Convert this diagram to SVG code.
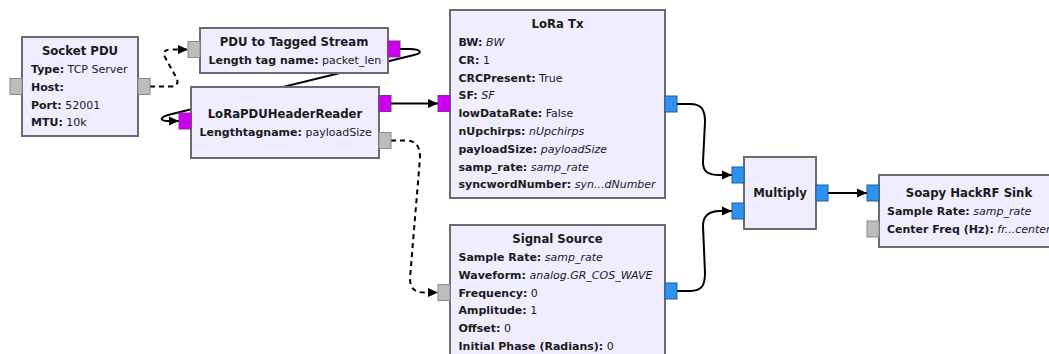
<svg xmlns="http://www.w3.org/2000/svg" width="1049" height="354" viewBox="0 0 1049 354">
<style>
.blk{fill:#F0EDFF;stroke:#6b6b6b;stroke-width:2}
.t{font-family:"DejaVu Sans",sans-serif;font-size:11.7px;font-weight:bold;fill:#1a1a1a;text-anchor:middle}
.p{font-family:"DejaVu Sans",sans-serif;font-size:11px;fill:#1a1a1a}
.b{font-weight:bold}
.i{font-style:italic}
.pg{fill:#BDBDBD;stroke:#8a8a8a;stroke-width:1}
.pm{fill:#CC00EE;stroke:#8a2a9a;stroke-width:1}
.pb{fill:#2F93EE;stroke:#1c5fa8;stroke-width:1}
.c{fill:none;stroke:#000;stroke-width:2}
.d{fill:none;stroke:#000;stroke-width:2;stroke-dasharray:5 4}
</style>
<defs>
<marker id="ah" markerUnits="userSpaceOnUse" markerWidth="11" markerHeight="10" refX="10" refY="5" orient="auto">
<path d="M0,0.5 L10,5 L0,9.5 z" fill="#000"/>
</marker>
</defs>
<g id="connectors">
<path class="d" d="M150,86.5 L170,86.5 C178,86.5 179,82 176,77 L166,59 C162,52 164,49.5 172,49.5 L188,49.5" marker-end="url(#ah)"/>
<path class="c" d="M400,49 L410,49 C420,49 424,53 414,55 L172,114 C158,117 160,121 168,121 L179,121" marker-end="url(#ah)"/>
<path class="c" d="M391,103.5 L438,103.5" marker-end="url(#ah)"/>
<path class="d" d="M391,140.5 L405,140.5 C416,140.5 420,146 420,158 L410,278 C410,288 414,292.5 424,292.5 L438,292.5" marker-end="url(#ah)"/>
<path class="c" d="M677,104 L690,104 C702,104 705,110 705,122 L703,162 C703,172 708,175 720,175 L732,175" marker-end="url(#ah)"/>
<path class="c" d="M677,291 L690,291 C702,291 705,285 705,273 L703,226 C703,216 708,211 720,211 L732,211" marker-end="url(#ah)"/>
<path class="c" d="M828,193 L867,193" marker-end="url(#ah)"/>
</g>
<g id="socket_pdu">
<rect class="blk" x="22" y="37" width="116" height="99"/>
<rect class="pg" x="10" y="78.5" width="12" height="16"/>
<rect class="pg" x="138" y="78.5" width="12" height="16"/>
<text class="t" x="80" y="54.5">Socket PDU</text>
<text class="p" x="31" y="73"><tspan class="b">Type:</tspan> TCP Server</text>
<text class="p" x="31" y="90.8"><tspan class="b">Host:</tspan></text>
<text class="p" x="31" y="108.6"><tspan class="b">Port:</tspan> 52001</text>
<text class="p" x="31" y="126.4"><tspan class="b">MTU:</tspan> 10k</text>
</g>
<g id="pdu_to_tagged_stream">
<rect class="blk" x="200" y="28" width="188" height="45"/>
<rect class="pg" x="188" y="41.5" width="12" height="16"/>
<rect class="pm" x="388" y="41" width="12" height="16"/>
<text class="t" x="294" y="45.5">PDU to Tagged Stream</text>
<text class="p" x="208.5" y="64"><tspan class="b">Length tag name:</tspan> packet_len</text>
</g>
<g id="lora_pdu_header_reader">
<rect class="blk" x="191" y="87" width="188" height="71"/>
<rect class="pm" x="179" y="113" width="12" height="16"/>
<rect class="pm" x="379" y="95.5" width="12" height="16"/>
<rect class="pg" x="379" y="132.5" width="12" height="16"/>
<text class="t" x="285" y="117.5">LoRaPDUHeaderReader</text>
<text class="p" x="199.5" y="136"><tspan class="b">Lengthtagname:</tspan> payloadSize</text>
</g>
<g id="lora_tx">
<rect class="blk" x="450" y="10" width="215" height="188"/>
<rect class="pm" x="438" y="95.5" width="12" height="16"/>
<rect class="pb" x="665" y="96" width="12" height="16"/>
<text class="t" x="557.5" y="27.5">LoRa Tx</text>
<text class="p" x="458.5" y="46"><tspan class="b">BW:</tspan> <tspan class="i">BW</tspan></text>
<text class="p" x="458.5" y="63.8"><tspan class="b">CR:</tspan> 1</text>
<text class="p" x="458.5" y="81.6"><tspan class="b">CRCPresent:</tspan> True</text>
<text class="p" x="458.5" y="99.4"><tspan class="b">SF:</tspan> <tspan class="i">SF</tspan></text>
<text class="p" x="458.5" y="117.2"><tspan class="b">lowDataRate:</tspan> False</text>
<text class="p" x="458.5" y="135"><tspan class="b">nUpchirps:</tspan> <tspan class="i">nUpchirps</tspan></text>
<text class="p" x="458.5" y="152.8"><tspan class="b">payloadSize:</tspan> <tspan class="i">payloadSize</tspan></text>
<text class="p" x="458.5" y="170.6"><tspan class="b">samp_rate:</tspan> <tspan class="i">samp_rate</tspan></text>
<text class="p" x="458.5" y="188.4"><tspan class="b">syncwordNumber:</tspan> <tspan class="i">syn...dNumber</tspan></text>
</g>
<g id="signal_source">
<rect class="blk" x="450" y="225" width="215" height="140"/>
<rect class="pg" x="438" y="284.5" width="12" height="16"/>
<rect class="pb" x="665" y="283" width="12" height="16"/>
<text class="t" x="557.5" y="242.5">Signal Source</text>
<text class="p" x="458.5" y="261"><tspan class="b">Sample Rate:</tspan> <tspan class="i">samp_rate</tspan></text>
<text class="p" x="458.5" y="278.8"><tspan class="b">Waveform:</tspan> <tspan class="i">analog.GR_COS_WAVE</tspan></text>
<text class="p" x="458.5" y="296.6"><tspan class="b">Frequency:</tspan> 0</text>
<text class="p" x="458.5" y="314.4"><tspan class="b">Amplitude:</tspan> 1</text>
<text class="p" x="458.5" y="332.2"><tspan class="b">Offset:</tspan> 0</text>
<text class="p" x="458.5" y="350"><tspan class="b">Initial Phase (Radians):</tspan> 0</text>
</g>
<g id="multiply">
<rect class="blk" x="744" y="157" width="72" height="72"/>
<rect class="pb" x="732" y="167" width="12" height="16"/>
<rect class="pb" x="732" y="203" width="12" height="16"/>
<rect class="pb" x="816" y="185" width="12" height="16"/>
<text class="t" x="780" y="197">Multiply</text>
</g>
<g id="soapy_hackrf_sink">
<rect class="blk" x="879" y="175" width="180" height="72"/>
<rect class="pb" x="867" y="185" width="12" height="16"/>
<rect class="pg" x="867" y="221" width="12" height="16"/>
<text class="t" x="969" y="196.5">Soapy HackRF Sink</text>
<text class="p" x="887" y="215"><tspan class="b">Sample Rate:</tspan> <tspan class="i">samp_rate</tspan></text>
<text class="p" x="887" y="233"><tspan class="b">Center Freq (Hz):</tspan> <tspan class="i">fr...center</tspan></text>
</g>
</svg>
